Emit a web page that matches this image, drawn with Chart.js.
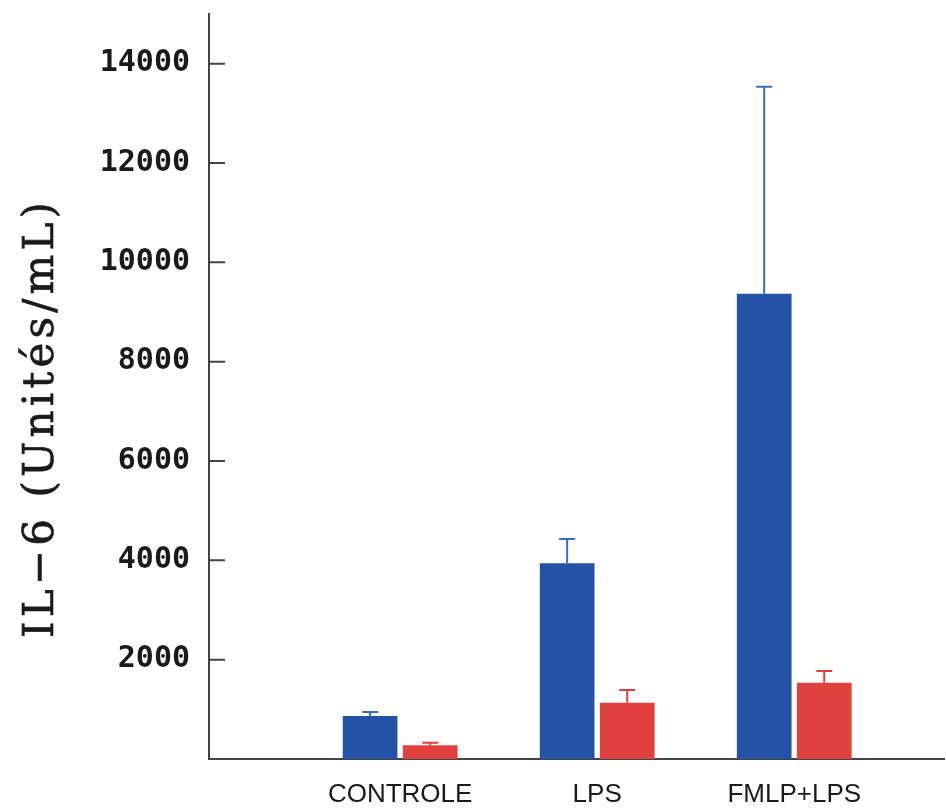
<!DOCTYPE html>
<html>
<head>
<meta charset="utf-8">
<script src="https://cdn.jsdelivr.net/npm/chart.js@4.4.0/dist/chart.umd.min.js"></script>
<style>
html, body { margin: 0; padding: 0; background: #fff; }
</style>
</head>
<body>
<canvas id="graph1" width="946" height="810"></canvas>
<script>
var categories = ['CONTROLE', 'LPS', 'FMLP+LPS'];
var blueValues = [866, 3942, 9365];
var blueErrors = [80, 490, 4170];
var redValues = [276, 1134, 1537];
var redErrors = [52, 256, 236];
var yTicks = [2000, 4000, 6000, 8000, 10000, 12000, 14000];
var yTitle = 'IL\u22126 (Unités/mL)';

function points(values) {
    return values.map(function (v, i) { return { x: i + 1, y: v }; });
}

// error bars (upper only), inward y ticks and the y title
var extras = {
    id: 'extras',
    afterDatasetsDraw: function (chart) {
        var c = chart.ctx, y = chart.scales.y;
        chart.data.datasets.forEach(function (ds, di) {
            chart.getDatasetMeta(di).data.forEach(function (bar, i) {
                var top = y.getPixelForValue(ds.data[i].y + ds.errors[i]);
                c.save();
                c.strokeStyle = ds.errorColor;
                c.lineWidth = 2;
                c.beginPath();
                c.moveTo(bar.x, bar.y);
                c.lineTo(bar.x, top);
                c.moveTo(bar.x - 8, top);
                c.lineTo(bar.x + 8, top);
                c.stroke();
                c.restore();
            });
        });
    },
    afterDraw: function (chart) {
        var c = chart.ctx, y = chart.scales.y, a = chart.chartArea;
        c.save();
        c.strokeStyle = '#444';
        c.lineWidth = 2;
        c.beginPath();
        y.ticks.forEach(function (t) {
            var py = y.getPixelForValue(t.value);
            c.moveTo(a.left, py);
            c.lineTo(a.left + 16, py);
        });
        c.stroke();

        c.font = '42px "DejaVu Serif"';
        c.fillStyle = '#1a1a1a';
        c.strokeStyle = '#1a1a1a';
        c.lineWidth = 0.6;
        c.textAlign = 'center';
        c.textBaseline = 'middle';
        var w0 = c.measureText(yTitle).width;
        c.letterSpacing = Math.max(0, (440 - w0) / yTitle.length) + 'px';
        c.translate(42, 418);
        c.rotate(-Math.PI / 2);
        c.fillText(yTitle, 0, 0);
        c.strokeText(yTitle, 0, 0);
        c.restore();
    }
};

var data = {
    datasets: [{
        label: 'A',
        data: points(blueValues),
        errors: blueErrors,
        backgroundColor: '#2452a6',
        errorColor: '#3b6cc0',
        borderWidth: 0,
        barPercentage: 0.91,
        categoryPercentage: 0.61
    }, {
        label: 'B',
        data: points(redValues),
        errors: redErrors,
        backgroundColor: '#e0403e',
        errorColor: '#e0403e',
        borderWidth: 0,
        barPercentage: 0.91,
        categoryPercentage: 0.61
    }]
};

var options = {
    responsive: false,
    animation: false,
    devicePixelRatio: 1,
    layout: { padding: { top: 14, right: 2, left: 0, bottom: 0 } },
    plugins: { legend: { display: false }, tooltip: { enabled: false } },
    scales: {
        x: {
            type: 'linear',
            min: 0.03,
            max: 3.76,
            offset: false,
            grid: { display: false },
            border: { color: '#444', width: 2 },
            afterBuildTicks: function (s) {
                s.ticks = categories.map(function (c, i) { return { value: i + 1 }; });
            },
            afterFit: function (s) { s.height = 51; s.paddingLeft = 0; s.paddingRight = 0; },
            ticks: {
                autoSkip: false,
                maxRotation: 0,
                padding: 12,
                color: '#1a1a1a',
                font: { family: '"Liberation Sans"', size: 26 },
                callback: function (v) { return categories[v - 1] || ''; }
            }
        },
        y: {
            min: 0,
            max: 15000,
            grid: { display: false },
            border: { color: '#444', width: 2 },
            afterBuildTicks: function (s) {
                s.ticks = yTicks.map(function (v) { return { value: v }; });
            },
            afterFit: function (s) { s.width = 209; s.paddingTop = 0; s.paddingBottom = 0; },
            ticks: {
                padding: 11,
                color: '#1a1a1a',
                font: { family: '"DejaVu Sans Mono"', size: 30, weight: 'bold' },
                callback: function (v) { return String(v); }
            }
        }
    }
};

var graph1 = new Chart(document.getElementById('graph1'), {
    type: 'bar',
    data: data,
    options: options,
    plugins: [extras]
});
</script>
</body>
</html>
